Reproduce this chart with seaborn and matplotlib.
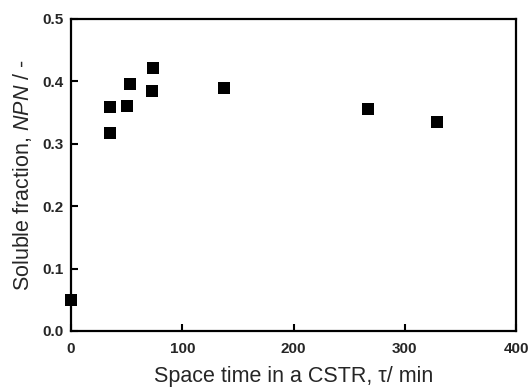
import matplotlib
matplotlib.use("Agg")
import matplotlib.pyplot as plt
import seaborn as sns
import pandas as pd

# space time (min) and soluble fraction NPN
tau = [0, 35, 35, 50, 53, 73, 74, 137, 267, 329]
npn = [0.049, 0.317, 0.359, 0.360, 0.395, 0.385, 0.422, 0.389, 0.355, 0.335]

xticks = [0, 100, 200, 300, 400]
yticks = [0.0, 0.1, 0.2, 0.3, 0.4, 0.5]

sns.set_style("ticks")
plt.rcParams['font.family'] = ['Liberation Sans', 'DejaVu Sans']
plt.rcParams['mathtext.fontset'] = 'custom'
plt.rcParams['mathtext.it'] = 'Liberation Sans:italic'
plt.rcParams['mathtext.rm'] = 'Liberation Sans'

df = pd.DataFrame({"tau": tau, "npn": npn})

fig = plt.figure(figsize=(5.3, 3.87), dpi=100)
ax = fig.add_axes([0.134, 0.145, 0.840, 0.806])
sns.scatterplot(data=df, x="tau", y="npn", marker="s", color="black",
                s=75, edgecolor="black", linewidth=0, ax=ax, clip_on=False, zorder=3)

ax.set_xlim(0, 400)
ax.set_ylim(0, 0.5)
ax.set_xticks(xticks)
ax.set_yticks(yticks)
ax.set_xticklabels([str(t) for t in xticks], fontsize=11, fontweight="bold")
ax.set_yticklabels(["%.1f" % t for t in yticks], fontsize=11, fontweight="bold")
ax.tick_params(direction="in", length=5, width=1.5, color="black")
ax.tick_params(axis="x", pad=8)
ax.tick_params(axis="y", pad=5.5)
for sp in ax.spines.values():
    sp.set_visible(True)
    sp.set_linewidth(1.6)
    sp.set_color("black")

ax.set_xlabel(r"Space time in a CSTR, τ/ min", fontsize=15.5, labelpad=7)
ax.set_ylabel(r"Soluble fraction, $\it{NPN}$ / -", fontsize=15.5, labelpad=6)

fig.savefig("out.png", dpi=100)
